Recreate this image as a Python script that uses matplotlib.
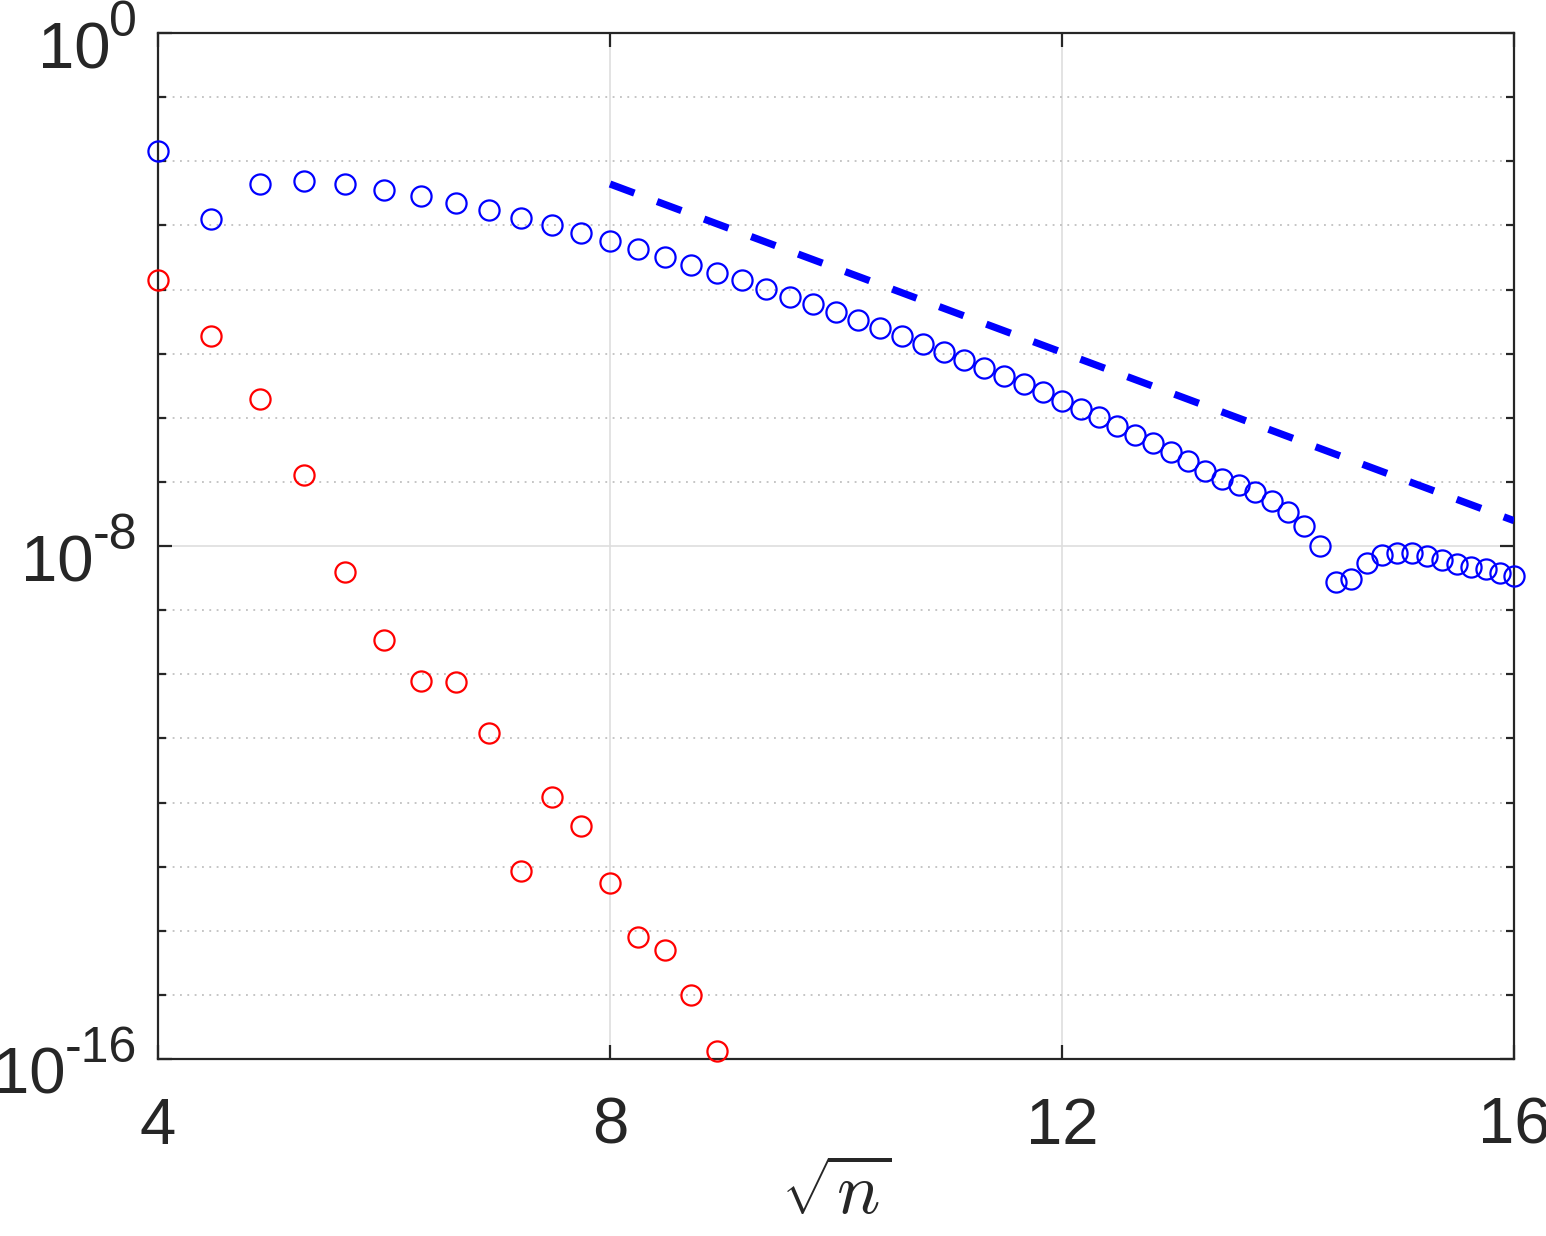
import numpy as np
import matplotlib
matplotlib.use("Agg")
import matplotlib.pyplot as plt
from matplotlib.ticker import FixedLocator, FixedFormatter, NullLocator, NullFormatter
from matplotlib.transforms import offset_copy, IdentityTransform

# ---------------- data ----------------
n_blue = [16, 20, 24, 28, 32, 36, 40, 44, 48, 52, 56, 60, 64, 68, 72, 76, 80,
          84, 88, 92, 96, 100, 104, 108, 112, 116, 120, 124, 128, 132, 136,
          140, 144, 148, 152, 156, 160, 164, 168, 172, 176, 180, 184, 188,
          192, 196, 200, 204, 208, 212, 216, 220, 224, 228, 232, 236, 240,
          244, 248, 252, 256]
blue_log10 = [-1.840, -2.901, -2.347, -2.313, -2.355, -2.448, -2.547, -2.651,
              -2.765, -2.885, -2.999, -3.124, -3.244, -3.368, -3.489, -3.613,
              -3.738, -3.857, -3.988, -4.112, -4.231, -4.356, -4.480, -4.605,
              -4.725, -4.850, -4.979, -5.099, -5.224, -5.354, -5.481, -5.606,
              -5.734, -5.864, -5.993, -6.129, -6.264, -6.398, -6.539, -6.679,
              -6.826, -6.960, -7.044, -7.163, -7.298, -7.474, -7.688, -7.995,
              -8.561, -8.515, -8.260, -8.140, -8.114, -8.114, -8.151, -8.214,
              -8.281, -8.323, -8.363, -8.416, -8.468]

n_red = [16, 20, 24, 28, 32, 36, 40, 44, 48, 52, 56, 60, 64, 68, 72, 76, 80]
red_log10 = [-3.857, -4.720, -5.712, -6.898, -8.410, -9.471, -10.101, -10.116,
             -10.912, -13.073, -11.910, -12.367, -13.255, -14.102, -14.305,
             -15.002, -15.871]

ref_sqrt_n = [8, 16]
ref_log10 = [-2.355, -7.605]

x_ticks = [4, 8, 12, 16]
x_tick_labels = ["4", "8", "12", "16"]
y_major = [-16, -8, 0]
y_exp_labels = ["-16", "-8", "0"]

# ---------------- figure ----------------
plt.rcParams['font.family'] = ['Liberation Sans', 'DejaVu Sans']
INK = '#262626'

W, H = 1546, 1236
fig = plt.figure(figsize=(W / 100, H / 100), dpi=100)
ax = fig.add_axes([158 / W, (H - 1059) / H, (1514 - 158) / W, (1059 - 33) / H])

xb = np.sqrt(np.array(n_blue, dtype=float))
yb = 10.0 ** np.array(blue_log10)
xr = np.sqrt(np.array(n_red, dtype=float))
yr = 10.0 ** np.array(red_log10)
yref = 10.0 ** np.array(ref_log10)

ax.set_yscale('log')
ax.set_xlim(4, 16)
ax.set_ylim(1e-16, 1e0)

ax.set_axisbelow(True)
ax.xaxis.set_major_locator(FixedLocator(x_ticks))
ax.xaxis.set_major_formatter(FixedFormatter(x_tick_labels))
ax.xaxis.set_minor_locator(NullLocator())
ax.yaxis.set_major_locator(FixedLocator([10.0 ** k for k in y_major]))
ax.yaxis.set_major_formatter(NullFormatter())
minor_decades = [10.0 ** k for k in range(-15, 0) if k != -8]
ax.yaxis.set_minor_locator(FixedLocator(minor_decades))
ax.yaxis.set_minor_formatter(NullFormatter())

ax.grid(True, which='major', color='#dedede', linewidth=1.2, linestyle='-')
ax.grid(True, which='minor', axis='y', color='#b5b5b5', linewidth=1.1,
        linestyle=(0, (1.2, 3.6)))

ax.plot(ref_sqrt_n, yref, color=(0, 0, 1), linewidth=5.2,
        linestyle=(0, (3.6, 3.35)), solid_capstyle='butt', dash_capstyle='butt',
        zorder=3)
ax.plot(xb, yb, linestyle='none', marker='o', markersize=14.5,
        markerfacecolor='none', markeredgecolor=(0, 0, 1),
        markeredgewidth=1.6, clip_on=False, zorder=4)
ax.plot(xr, yr, linestyle='none', marker='o', markersize=14.5,
        markerfacecolor='none', markeredgecolor=(1, 0, 0),
        markeredgewidth=1.6, clip_on=False, zorder=4)

for s in ax.spines.values():
    s.set_color(INK)
    s.set_linewidth(1.6)

ax.tick_params(which='both', direction='in', top=True, right=True,
               color=INK, width=1.6, labelcolor=INK)
ax.tick_params(which='major', length=10, labelsize=47)
ax.tick_params(which='minor', length=5.5)
ax.tick_params(axis='x', which='major', pad=27)

ax.set_xlabel(r"$\sqrt{n}$", fontsize=52, labelpad=4,
              math_fontfamily='cm', color=INK)

# y tick labels "10" with raised exponent (as in the reference)
ytr = ax.get_yaxis_transform()
exp_texts = []
for k, e in zip(y_major, y_exp_labels):
    t = ax.text(0, 10.0 ** k, e, fontsize=36, color=INK, ha='right',
                va='baseline',
                transform=offset_copy(ytr, fig=fig, x=-21, y=-3, units='dots'))
    exp_texts.append((k, t))

fig.canvas.draw()
renderer = fig.canvas.get_renderer()
for k, t in exp_texts:
    bb = t.get_window_extent(renderer)
    _, ytick_disp = ax.transData.transform((4, 10.0 ** k))
    fig.text(bb.x0 + 1, ytick_disp - 35, "10", fontsize=47, color=INK,
             ha='right', va='baseline', transform=IdentityTransform())

fig.savefig("out.png", dpi=100, facecolor='white')
